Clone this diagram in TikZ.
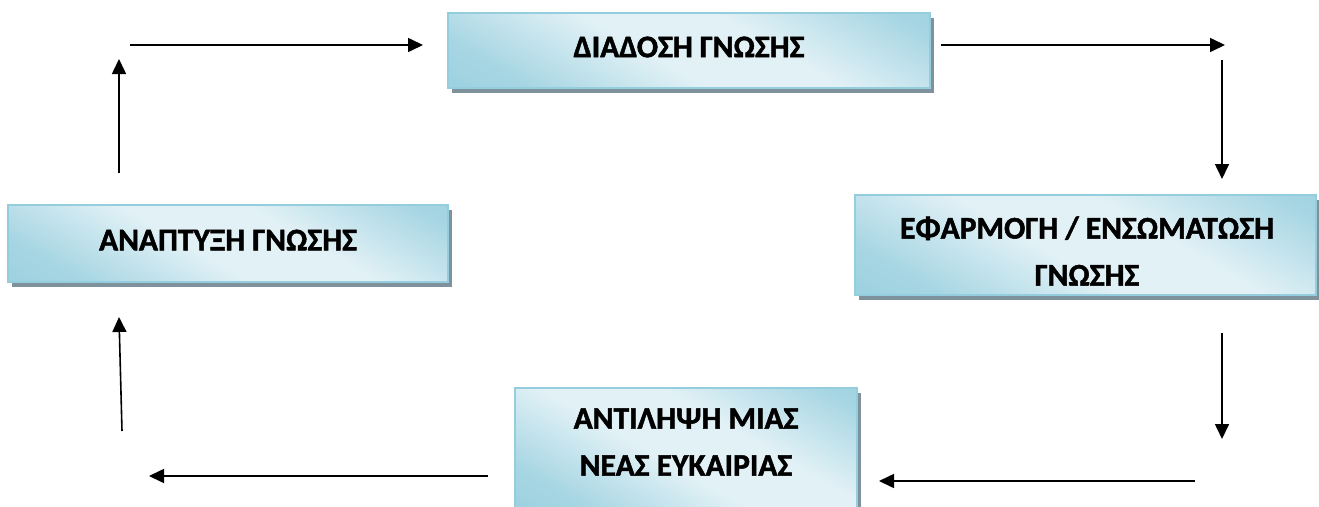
\documentclass[tikz,border=0pt]{standalone}
\usepackage{fontspec}
\setmainfont{Carlito}[BoldFeatures={FakeBold=1.5}]
\usetikzlibrary{arrows.meta,shadows}

\definecolor{aquadark}{HTML}{8DCADB}
\definecolor{aqualight}{HTML}{E2F1F6}
\definecolor{aquaedge}{HTML}{94CDDD}
\definecolor{shadowgray}{HTML}{7F929C}

\pgfdeclarehorizontalshading{aquaband}{100bp}{%
  color(0bp)=(aquadark); color(25bp)=(aquadark!70!aqualight);
  color(45bp)=(aqualight); color(60bp)=(aqualight); color(80bp)=(aquadark!70!aqualight);
  color(100bp)=(aquadark)}

\tikzset{
  stagebox/.style={rectangle, shading=aquaband, shading angle=60,
    draw=aquaedge, line width=1.2pt, inner sep=0pt,
    drop shadow={shadow xshift=4pt, shadow yshift=-5pt, fill=shadowgray, opacity=1}},
  stagetext/.style={align=center, inner sep=0pt, text=black,
    font=\fontsize{31.5}{47}\selectfont\bfseries},
  flow/.style={line width=1.6pt, -{Triangle[length=15pt,width=14pt]}}
}

\begin{document}
\begin{tikzpicture}[x=1pt,y=-1pt]
\useasboundingbox (0,0) rectangle (1319,506);
\clip (0,0) rectangle (1319,506);

% the four stages of the cycle
\node[stagebox, minimum width=482pt, minimum height=75pt] (diadosi) at (689,50.5) {};
\node[stagebox, minimum width=461pt, minimum height=100pt] (efarmogi) at (1085.5,245) {};
\node[stagebox, minimum width=342pt, minimum height=122pt] (antilipsi) at (686,449) {};
\node[stagebox, minimum width=440pt, minimum height=77pt] (anaptyxi) at (228,243.5) {};

\node[stagetext] (diadosiT) at (689,47) {ΔΙΑΔΟΣΗ ΓΝΩΣΗΣ};
\node[stagetext] (efarmogiT) at (1087,251) {ΕΦΑΡΜΟΓΗ / ΕΝΣΩΜΑΤΩΣΗ\\ΓΝΩΣΗΣ};
\node[stagetext] (antilipsiT) at (686,442) {ΑΝΤΙΛΗΨΗ ΜΙΑΣ\\ΝΕΑΣ ΕΥΚΑΙΡΙΑΣ};
\node[stagetext] (anaptyxiT) at (228,240) {ΑΝΑΠΤΥΞΗ ΓΝΩΣΗΣ};

% free ends of the arrows
\coordinate (a1s) at (130,45);   \coordinate (a1e) at (423,45);
\coordinate (a2s) at (941,45);   \coordinate (a2e) at (1225,45);
\coordinate (a3s) at (1222,60);  \coordinate (a3e) at (1222,179);
\coordinate (a4s) at (1222,333); \coordinate (a4e) at (1222,439);
\coordinate (a5s) at (1195,481); \coordinate (a5e) at (879,481);
\coordinate (a6s) at (488,476);  \coordinate (a6e) at (149,476);
\coordinate (a7s) at (122,431);  \coordinate (a7e) at (119,317);
\coordinate (a8s) at (119,173);  \coordinate (a8e) at (119,59);

\draw[flow] (a1s) -- (a1e);
\draw[flow] (a2s) -- (a2e);
\draw[flow] (a3s) -- (a3e);
\draw[flow] (a4s) -- (a4e);
\draw[flow] (a5s) -- (a5e);
\draw[flow] (a6s) -- (a6e);
\draw[flow] (a7s) -- (a7e);
\draw[flow] (a8s) -- (a8e);
\end{tikzpicture}
\end{document}
